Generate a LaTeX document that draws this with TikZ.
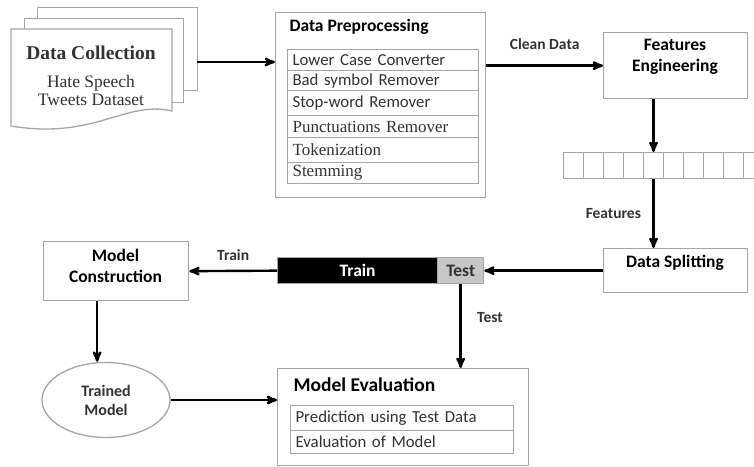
\documentclass[tikz,border=0pt]{standalone}
\usepackage{fontspec}
\setmainfont{Liberation Serif}
\newfontfamily\calfont{Carlito}
\usetikzlibrary{positioning, arrows, shapes.geometric}
\tikzset{
	x=1pt, y=-1pt,
	>=stealth',
	flow/.style={->, line width=2.4pt},
	box/.style={draw=gray!70, line width=1.3pt, fill=white, inner sep=0pt, anchor=north west},
	page/.style={box},
	rowbox/.style={draw=gray!70, line width=1.1pt, anchor=north west, inner xsep=5pt, inner ysep=0pt, align=left},
	cell/.style={draw=gray!70, line width=1pt, fill=white, minimum width=20, minimum height=26, anchor=north west},
	title/.style={font=\calfont\bfseries\fontsize{17.5}{21}\selectfont, align=center},
	lbl/.style={font=\calfont\bfseries\fontsize{15.5}{18}\selectfont, text=black!80},
	sanrow/.style={font=\calfont\fontsize{16.8}{19}\selectfont, text=black!80},
	serrow/.style={font=\fontsize{17}{19}\selectfont, text=black!80}}

\begin{document}
\begin{tikzpicture}
	\useasboundingbox (0,0) rectangle (754,466);
	\clip (0,0) rectangle (754,466);

	% data collection (stack of pages)
	\node[page, minimum width=160, minimum height=83] (pg3) at (37,7) {};
	\node[page, minimum width=159, minimum height=84] (pg2) at (24,18) {};
	\draw[draw=gray!70, line width=1.3pt, fill=white]
		(11,29) -- (172,29) -- (172,111) .. controls (125,100) and (95,140) .. (11,126) -- cycle;
	\node[font=\bfseries\fontsize{19.5}{22}\selectfont, text=black!80] (coll) at (91,53) {Data Collection};
	\node[font=\fontsize{17.5}{18}\selectfont, text=black!80, align=center] (collset) at (91,91) {Hate Speech\\Tweets Dataset};
	\coordinate (collout) at (197,62);

	% preprocessing
	\node[box, minimum width=210, minimum height=185] (prep) at (275,12) {};
	\node[title, anchor=west] (preptitle) at (286,27) {Data Preprocessing};
	\foreach \i/\t/\h/\s/\txt in {1/49/21/sanrow/Lower Case Converter, 2/70/20/sanrow/Bad symbol Remover,
		3/90/25/sanrow/Stop-word Remover, 4/115/22/serrow/Punctuations Remover,
		5/137/25/serrow/Tokenization, 6/162/21/serrow/Stemming}
		\node[rowbox, \s, text width=181pt, minimum height=\h] (pr\i) at (287,\t) {\txt};

	% features engineering
	\node[box, minimum width=144, minimum height=66] (feat) at (603,32) {};
	\node[title] (feattitle) at (675,57) {Features\\Engineering};

	% feature vector
	\foreach \i in {0,...,9}
		\node[cell] (c\i) at (563+20*\i,152) {};

	% data splitting
	\node[box, minimum width=144, minimum height=44] (split) at (603,248) {};
	\node[title] (splittitle) at (675,263) {Data Splitting};

	% train / test bar
	\node[box, fill=black, text=white, minimum width=160, minimum height=26, title] (train) at (277,257) {Train};
	\node[box, fill=gray!45, text=black!80, minimum width=46, minimum height=26, title] (test) at (437,257) {Test};

	% model construction
	\node[box, minimum width=145, minimum height=59] (constr) at (43,241) {};
	\node[title] (constrtitle) at (115.5,266) {Model\\Construction};

	% trained model
	\node[ellipse, draw=gray!70, line width=1.3pt, minimum width=128, minimum height=75, inner sep=0pt,
		font=\calfont\bfseries\fontsize{16}{19}\selectfont, text=black!80, align=center] (trained) at (106,400) {Trained\\Model};

	% model evaluation
	\node[box, minimum width=251, minimum height=97] (eval) at (277,368) {};
	\node[font=\calfont\bfseries\fontsize{19.5}{22}\selectfont, anchor=west] (evaltitle) at (290,385) {Model Evaluation};
	\node[rowbox, sanrow, text width=213pt, minimum height=25] (ev1) at (290,405) {Prediction using Test Data};
	\node[rowbox, sanrow, text width=213pt, minimum height=23] (ev2) at (290,430) {Evaluation of Model};

	\draw[flow] (collout) -- (collout -| prep.west);
	\draw[flow] (prep.east |- feat.west) -- node[lbl, above=12pt]{Clean Data} (feat.west);
	\draw[flow] (feat.south -| c4.north) -- (c4.north);
	\draw[flow] (c4.south) -- node[lbl, left=8pt]{Features} (c4.south |- split.north);
	\draw[flow] (split.west) -- (test.east);
	\draw[flow] (train.west) -- node[lbl, above=6pt]{Train} (constr.east);
	\draw[flow] (test.south) -- node[lbl, right=12pt, pos=0.4]{Test} (test.south |- eval.north);
	\draw[flow] ([xshift=-19]constr.south) -- ([xshift=-19]constr.south |- trained.north);
	\draw[flow] (trained.east) -- (trained.east -| eval.west);
\end{tikzpicture}
\end{document}
